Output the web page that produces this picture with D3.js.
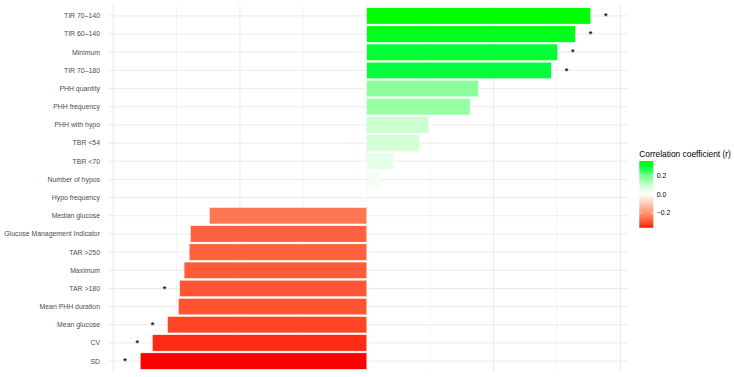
<!DOCTYPE html>
<html><head><meta charset="utf-8">
<script src="https://cdn.jsdelivr.net/npm/d3@7"></script>
<style>html,body{margin:0;padding:0;background:#fff;}svg{display:block;font-family:"Liberation Sans",Arial,sans-serif;}</style>
</head><body>
<svg id="chart" width="734" height="377"></svg>
<script>
const categories = ["TIR 70–140","TIR 60–140","Minimum","TIR 70–180","PHH quantity","PHH frequency","PHH with hypo","TBR <54","TBR <70","Number of hypos","Hypo frequency","Median glucose","Glucose Management Indicator","TAR >250","Maximum","TAR >180","Mean PHH duration","Mean glucose","CV","SD"];
const values = [0.353,0.329,0.301,0.291,0.176,0.163,0.098,0.083,0.043,0.021,-0.003,-0.248,-0.278,-0.280,-0.288,-0.295,-0.297,-0.314,-0.338,-0.357];
const significant = [true,true,true,true,false,false,false,false,false,false,false,false,false,false,false,true,false,true,true,true];
const majorTicks = [-0.4,-0.2,0,0.2,0.4];
const minorTicks = [-0.3,-0.1,0.1,0.3];
const legendTicks = [-0.2,0,0.2];
const legendTitle = "Correlation coefficient (r)";
// colour palette (positions on the 0..1 rescaled value)
const greenStops = [0,0.12,0.27,0.49,0.82,1];
const greenColors = ["#FFFFFF","#E6FFEA","#CCFFCE","#8CFF9C","#00FF3C","#00FF00"];

const svg = d3.select("#chart");
const panel = {left:108, right:628, top:5, bottom:372};

const x = d3.scaleLinear().domain([-0.408,0.412]).range([panel.left,panel.right]);
const y = d3.scaleBand().domain(categories).range([panel.top,panel.bottom]).paddingInner(0.1).paddingOuter(0.15);

const vMin = d3.min(values), vMax = d3.max(values);
const absMax = Math.max(Math.abs(vMin), Math.abs(vMax));
const lowInt = d3.interpolateLab("#FFFFFF","#FF0000");
const highScale = d3.scaleLinear().domain(greenStops).range(greenColors).interpolate(d3.interpolateRgb).clamp(true);
const color = v => v >= 0 ? highScale(v/absMax) : lowInt(-v/absMax);

// grid
const g = svg.append("g");
g.selectAll("line.minor").data(minorTicks).join("line")
  .attr("x1",d=>x(d)).attr("x2",d=>x(d)).attr("y1",panel.top).attr("y2",panel.bottom)
  .attr("stroke","#EBEBEB").attr("stroke-width",0.5);
g.selectAll("line.major").data(majorTicks).join("line")
  .attr("x1",d=>x(d)).attr("x2",d=>x(d)).attr("y1",panel.top).attr("y2",panel.bottom)
  .attr("stroke","#EBEBEB").attr("stroke-width",1);
g.selectAll("line.hgrid").data(categories).join("line")
  .attr("x1",panel.left).attr("x2",panel.right)
  .attr("y1",d=>y(d)+y.bandwidth()/2).attr("y2",d=>y(d)+y.bandwidth()/2)
  .attr("stroke","#EBEBEB").attr("stroke-width",1);

// bars
svg.append("g").selectAll("rect").data(categories).join("rect")
  .attr("x",(d,i)=>x(Math.min(0,values[i])))
  .attr("width",(d,i)=>Math.abs(x(values[i])-x(0)))
  .attr("y",d=>y(d)).attr("height",y.bandwidth())
  .attr("fill",(d,i)=>color(values[i]))
  .attr("stroke","#FFFFFF").attr("stroke-width",0.4);

// asterisks
const nudge = 0.024;
svg.append("g").selectAll("text").data(categories.filter((d,i)=>significant[i])).join("text")
  .attr("x",d=>{const v=values[categories.indexOf(d)];return x(v + (v>=0?nudge:-nudge));})
  .attr("y",d=>y(d)+y.bandwidth()/2+3.2)
  .attr("text-anchor","middle").attr("font-size",9).attr("font-weight","bold").attr("fill","#222")
  .text("*");

// y axis labels
svg.append("g").selectAll("text").data(categories).join("text")
  .attr("x",100).attr("y",d=>y(d)+y.bandwidth()/2)
  .attr("dy","0.35em").attr("text-anchor","end")
  .attr("font-size",6.9).attr("fill","#4D4D4D").text(d=>d);

// legend
const lg = {x:639.3, w:14, top:161, bottom:227.7};
const ly = d3.scaleLinear().domain([vMin,vMax]).range([lg.bottom,lg.top]);
const defs = svg.append("defs");
const grad = defs.append("linearGradient").attr("id","lgrad").attr("x1",0).attr("y1",1).attr("x2",0).attr("y2",0);
d3.range(0,1.0001,0.02).forEach(t=>{
  const v = vMin + t*(vMax-vMin);
  grad.append("stop").attr("offset",t).attr("stop-color",color(v));
});
svg.append("text").attr("x",lg.x).attr("y",156.5).attr("font-size",8.4).attr("fill","#000").text(legendTitle);
svg.append("rect").attr("x",lg.x).attr("y",lg.top).attr("width",lg.w).attr("height",lg.bottom-lg.top).attr("fill","url(#lgrad)");
const lt = svg.append("g");
lt.selectAll("line.l").data(legendTicks).join("line")
  .attr("x1",lg.x).attr("x2",lg.x+lg.w/5).attr("y1",d=>ly(d)).attr("y2",d=>ly(d)).attr("stroke","#fff").attr("stroke-width",0.5);
lt.selectAll("line.r").data(legendTicks).join("line")
  .attr("x1",lg.x+lg.w*4/5).attr("x2",lg.x+lg.w).attr("y1",d=>ly(d)).attr("y2",d=>ly(d)).attr("stroke","#fff").attr("stroke-width",0.5);
lt.selectAll("text").data(legendTicks).join("text")
  .attr("x",lg.x+lg.w+3.4).attr("y",d=>ly(d)).attr("dy","0.35em")
  .attr("font-size",6.9).attr("fill","#000")
  .text(d=>d3.format(".1f")(d).replace("-","−"));
</script>
</body></html>
